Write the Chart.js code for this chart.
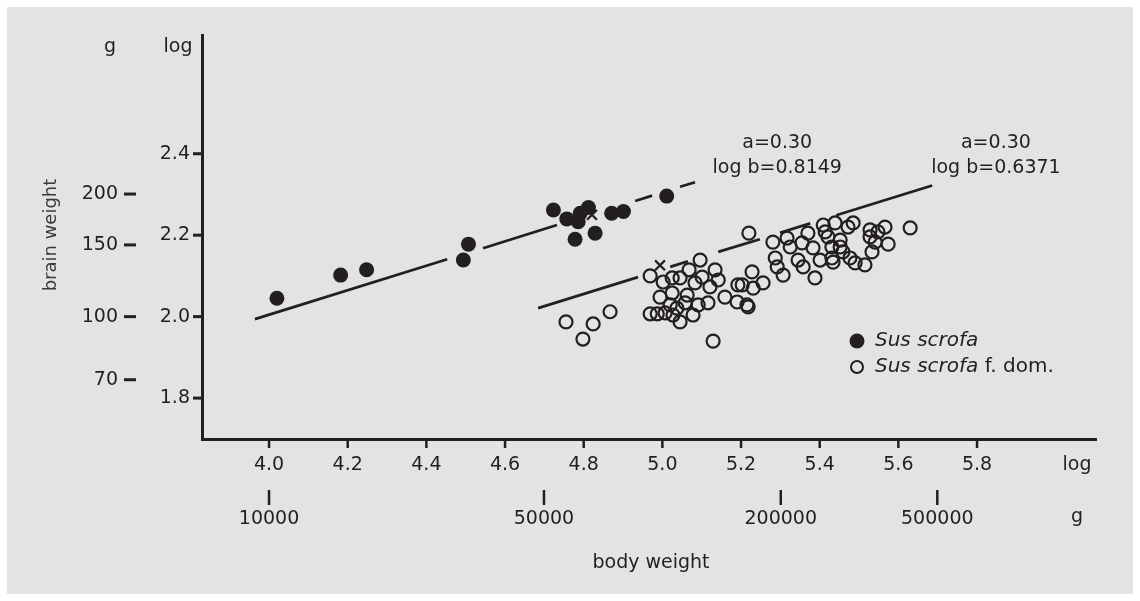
<!DOCTYPE html>
<html>
<head>
<meta charset="utf-8">
<script src="https://cdn.jsdelivr.net/npm/chart.js@4.4.1/dist/chart.umd.min.js"></script>
<style>
  html, body { margin: 0; padding: 0; background: #ffffff; }
  canvas { display: block; }
</style>
</head>
<body>
<canvas id="c" width="1140" height="601"></canvas>
<script>
// ---- Data (log10 body weight, log10 brain weight) ----
const wildX = [4.020, 4.182, 4.248, 4.494, 4.507, 4.723, 4.757, 4.791, 4.812, 4.786, 4.778, 4.829, 4.871, 4.901, 5.011];
const wildY = [2.045, 2.102, 2.115, 2.139, 2.178, 2.262, 2.240, 2.254, 2.268, 2.233, 2.190, 2.205, 2.254, 2.258, 2.296];

const domX = [4.755, 4.824, 4.798, 4.867, 4.969, 4.969, 4.994, 5.096, 5.068, 5.134,
              5.025, 5.045, 5.002, 5.101, 5.142, 5.083, 5.121, 5.025, 5.063, 5.058,
              5.091, 5.116, 5.020, 5.037, 4.987, 5.007, 5.027, 5.078, 5.045, 5.129,
              5.159, 5.192, 5.190, 5.218, 5.220, 5.228, 5.281, 5.317, 5.370, 5.409,
              5.439, 5.414, 5.355, 5.383, 5.325, 5.287, 5.292, 5.307, 5.345, 5.358,
              5.401, 5.434, 5.431, 5.388, 5.256, 5.231, 5.203, 5.215, 5.452, 5.485,
              5.472, 5.528, 5.548, 5.566, 5.630, 5.528, 5.574, 5.541, 5.533, 5.452,
              5.459, 5.431, 5.477, 5.490, 5.515, 5.421];
const domY = [1.987, 1.982, 1.945, 2.012, 2.100, 2.007, 2.048, 2.139, 2.115, 2.115,
              2.095, 2.095, 2.085, 2.097, 2.090, 2.083, 2.073, 2.058, 2.053, 2.034,
              2.029, 2.034, 2.029, 2.021, 2.007, 2.009, 2.004, 2.004, 1.987, 1.940,
              2.048, 2.078, 2.036, 2.024, 2.205, 2.110, 2.183, 2.193, 2.205, 2.225,
              2.230, 2.208, 2.181, 2.169, 2.171, 2.144, 2.122, 2.102, 2.139, 2.122,
              2.139, 2.134, 2.171, 2.095, 2.083, 2.070, 2.078, 2.029, 2.171, 2.230,
              2.220, 2.213, 2.208, 2.220, 2.218, 2.196, 2.178, 2.183, 2.159, 2.188,
              2.159, 2.144, 2.144, 2.132, 2.127, 2.196];

// Regression lines (a = 0.30), drawn as broken segments [x0, x1] pairs with y values
const wildLineX = [3.964, 4.453, 4.544, 4.732, 4.931, 4.974, 5.045, 5.083];
const wildLineY = [1.994, 2.141, 2.168, 2.225, 2.284, 2.297, 2.319, 2.330];
const domLineX  = [4.684, 4.938, 5.020, 5.065, 5.142, 5.248, 5.299, 5.376, 5.442, 5.686];
const domLineY  = [2.021, 2.097, 2.122, 2.136, 2.159, 2.190, 2.206, 2.229, 2.249, 2.322];

// Mean markers "x"
const meanX = [4.821, 4.994];
const meanY = [2.250, 2.126];

// Tick labels
const yLogTicks = [1.8, 2.0, 2.2, 2.4];
const yGramTicks = [70, 100, 150, 200];
const xLogTicks = [4.0, 4.2, 4.4, 4.6, 4.8, 5.0, 5.2, 5.4, 5.6, 5.8];
const xGramTicks = [10000, 50000, 200000, 500000];

const fitLabels = [
  { x: 5.292, y: 2.426, lines: ['a=0.30', 'log b=0.8149'] },
  { x: 5.848, y: 2.426, lines: ['a=0.30', 'log b=0.6371'] }
];

const INK = '#231f20';
const FONT = '"DejaVu Sans", sans-serif';

function segments(xs, ys) {
  const out = [];
  for (let i = 0; i < xs.length; i += 2) {
    out.push({ x: xs[i], y: ys[i] });
    out.push({ x: xs[i + 1], y: ys[i + 1] });
    if (i + 2 < xs.length) out.push({ x: (xs[i + 1] + xs[i + 2]) / 2, y: null });
  }
  return out;
}
const pts = (xs, ys) => xs.map((x, i) => ({ x, y: ys[i] }));

const decor = {
  id: 'decor',
  beforeDraw(chart) {
    const ctx = chart.ctx;
    ctx.save();
    ctx.fillStyle = '#ffffff';
    ctx.fillRect(0, 0, chart.width, chart.height);
    ctx.fillStyle = '#e3e3e3';
    ctx.fillRect(7, 7, 1126, 587);
    ctx.restore();
  },
  afterDraw(chart) {
    const ctx = chart.ctx;
    const xs = chart.scales.x, ys = chart.scales.y;
    const area = chart.chartArea;
    ctx.save();
    ctx.strokeStyle = INK;
    ctx.fillStyle = INK;
    ctx.lineCap = 'butt';

    // axis lines
    ctx.lineWidth = 3;
    ctx.beginPath();
    ctx.moveTo(area.left + 1.5, area.top);
    ctx.lineTo(area.left + 1.5, area.bottom + 1.5);
    ctx.lineTo(area.right, area.bottom + 1.5);
    ctx.stroke();

    ctx.font = '19px ' + FONT;
    // y log ticks
    ctx.textAlign = 'right';
    ctx.textBaseline = 'middle';
    ctx.lineWidth = 3;
    yLogTicks.forEach(v => {
      const py = ys.getPixelForValue(v);
      ctx.beginPath();
      ctx.moveTo(area.left - 8, py);
      ctx.lineTo(area.left + 1, py);
      ctx.stroke();
      ctx.fillText(v.toFixed(1), area.left - 11, py);
    });
    // y gram ticks
    yGramTicks.forEach(v => {
      const py = ys.getPixelForValue(Math.log10(v));
      ctx.beginPath();
      ctx.moveTo(124, py);
      ctx.lineTo(136, py);
      ctx.stroke();
      ctx.fillText(String(v), 118, py);
    });
    // headers
    ctx.textAlign = 'center';
    ctx.textBaseline = 'alphabetic';
    ctx.fillText('g', 110, 52);
    ctx.fillText('log', 178, 52);

    // x log ticks
    ctx.lineWidth = 2.5;
    ctx.textBaseline = 'middle';
    xLogTicks.forEach(v => {
      const px = xs.getPixelForValue(v);
      ctx.beginPath();
      ctx.moveTo(px, area.bottom + 2);
      ctx.lineTo(px, area.bottom + 10);
      ctx.stroke();
      ctx.fillText(v.toFixed(1), px, 465);
    });
    ctx.fillText('log', 1077, 465);
    // x gram ticks
    xGramTicks.forEach(v => {
      const px = xs.getPixelForValue(Math.log10(v));
      ctx.beginPath();
      ctx.moveTo(px, 490);
      ctx.lineTo(px, 505);
      ctx.stroke();
      ctx.fillText(String(v), px, 519);
    });
    ctx.fillText('g', 1077, 517);

    // axis titles
    ctx.font = '19px ' + FONT;
    ctx.fillText('body weight', 651, 563);
    ctx.save();
    ctx.translate(51, 235);
    ctx.rotate(-Math.PI / 2);
    ctx.fillStyle = '#3a3a3a';
    ctx.font = '18px ' + FONT;
    ctx.fillText('brain weight', 0, 0);
    ctx.restore();

    // fit labels
    ctx.font = '19px ' + FONT;
    fitLabels.forEach(f => {
      const px = xs.getPixelForValue(f.x);
      const py = ys.getPixelForValue(f.y);
      f.lines.forEach((t, i) => ctx.fillText(t, px, py + i * 25));
    });

    // legend
    const lx = 857, ly1 = 341, ly2 = 367;
    ctx.beginPath();
    ctx.arc(lx, ly1, 7.5, 0, Math.PI * 2);
    ctx.fill();
    ctx.lineWidth = 2;
    ctx.beginPath();
    ctx.arc(lx, ly2, 6, 0, Math.PI * 2);
    ctx.stroke();
    ctx.textAlign = 'left';
    ctx.font = 'italic 20px ' + FONT;
    ctx.fillText('Sus scrofa', 875, ly1);
    ctx.fillText('Sus scrofa', 875, ly2);
    const w = ctx.measureText('Sus scrofa').width;
    ctx.font = '20px ' + FONT;
    ctx.fillText(' f. dom.', 875 + w, ly2);
    ctx.restore();
  }
};

new Chart(document.getElementById('c'), {
  type: 'scatter',
  data: {
    datasets: [
      {
        label: 'means', data: pts(meanX, meanY), order: 0,
        pointStyle: 'crossRot', pointRadius: 7, borderColor: INK, borderWidth: 2.2
      },
      {
        label: 'Sus scrofa', data: pts(wildX, wildY), order: 1,
        pointStyle: 'circle', pointRadius: 7.5, backgroundColor: INK, borderColor: INK, borderWidth: 0
      },
      {
        label: 'Sus scrofa f. dom.', data: pts(domX, domY), order: 1,
        pointStyle: 'circle', pointRadius: 6.5, backgroundColor: 'rgba(0,0,0,0)', borderColor: INK, borderWidth: 2.2
      },
      {
        type: 'line', label: 'wild fit', data: segments(wildLineX, wildLineY), order: 2,
        borderColor: INK, borderWidth: 2.8, pointRadius: 0, spanGaps: false, showLine: true, fill: false
      },
      {
        type: 'line', label: 'dom fit', data: segments(domLineX, domLineY), order: 2,
        borderColor: INK, borderWidth: 2.8, pointRadius: 0, spanGaps: false, showLine: true, fill: false
      }
    ]
  },
  options: {
    responsive: false,
    devicePixelRatio: 1,
    animation: false,
    layout: { padding: { left: 201, right: 43, top: 34, bottom: 163 } },
    plugins: { legend: { display: false }, tooltip: { enabled: false } },
    scales: {
      x: { type: 'linear', min: 3.827, max: 6.105, display: false },
      y: { type: 'linear', min: 1.702, max: 2.694, display: false }
    }
  },
  plugins: [decor]
});
</script>
</body>
</html>
